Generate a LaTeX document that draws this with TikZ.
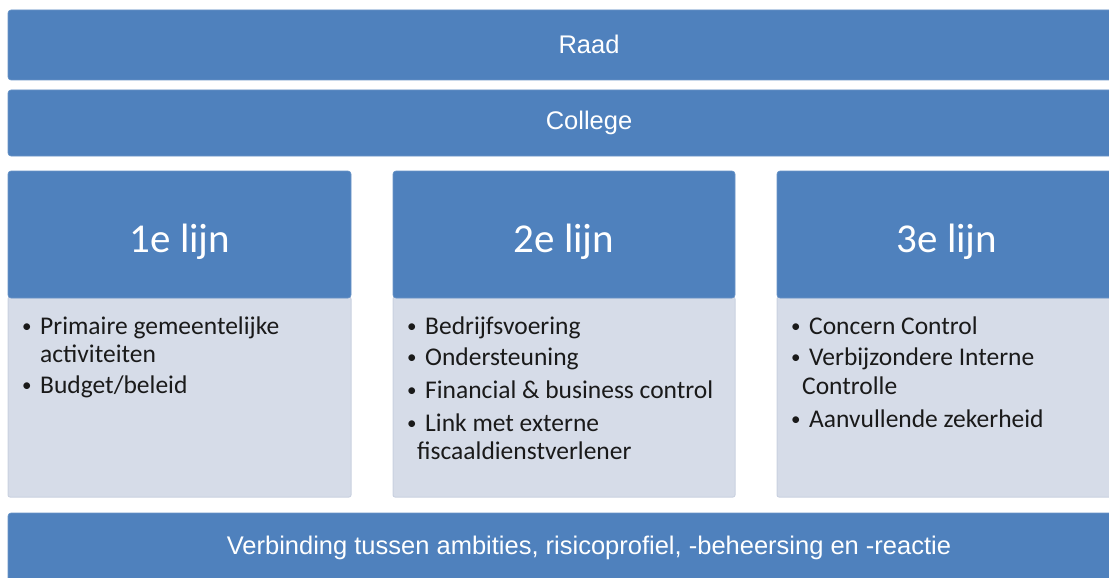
\documentclass[tikz,border=0pt]{standalone}
\usepackage{fontspec}
\setmainfont{Carlito}
\newfontfamily\arialf{Liberation Sans}
\definecolor{bblue}{HTML}{4F81BD}
\definecolor{lpanel}{HTML}{D6DCE8}
\definecolor{lborder}{HTML}{C9D1E0}
\definecolor{txt}{HTML}{1A1A1A}
\begin{document}
\begin{tikzpicture}[x=1pt,y=-1pt,
  bar/.style={fill=bblue,draw=bblue!85!white,line width=0.6pt,rounded corners=3pt},
  panel/.style={fill=lpanel,draw=lborder,line width=1pt,rounded corners=2pt},
  bartext/.style={text=white,font=\arialf\fontsize{25.5}{30}\selectfont,inner sep=0pt},
  headtext/.style={text=white,font=\fontsize{41}{46}\selectfont,inner sep=0pt},
  itemtext/.style={text=txt,font=\fontsize{25.5}{30}\selectfont,inner sep=0pt,anchor=base west},
  bul/.style={text=txt,font=\fontsize{19}{22}\selectfont,inner sep=0pt,anchor=base west}]
\useasboundingbox (0,0) rectangle (1109,578);
\clip (0,0) rectangle (1109,578);
% bars
\draw[bar] (8,10) rectangle (1170,80);
\node[bartext] (raad) at (589,44) {Raad};
\draw[bar] (8,90) rectangle (1170,156);
\node[bartext] (college) at (589,123) {College};
\draw[bar] (8,513) rectangle (1170,600);
\node[bartext] (verb) at (589,548) {Verbinding tussen ambities, risicoprofiel, -beheersing en -reactie};
% columns
\draw[panel] (8,297) rectangle (351,497);
\draw[bar] (8,171) rectangle (351,298);
\draw[panel] (393,297) rectangle (735,497);
\draw[bar] (393,171) rectangle (735,298);
\draw[panel] (777,297) rectangle (1140,497);
\draw[bar] (777,171) rectangle (1140,298);
\node[headtext] (h1) at (180,242) {1e lijn};
\node[headtext] (h2) at (564,242) {2e lijn};
\node[headtext] (h3) at (947,242) {3e lijn};
% column 1
\node[bul] (a1b) at (22,332) {•};
\node[itemtext] (a1) at (40,334) {Primaire gemeentelijke};
\node[itemtext] (a1c) at (40,362) {activiteiten};
\node[bul] (a2b) at (22,391) {•};
\node[itemtext] (a2) at (40,393) {Budget/beleid};
% column 2
\node[bul] (b1b) at (407,332) {•};
\node[itemtext] (b1) at (425,334) {Bedrijfsvoering};
\node[bul] (b2b) at (407,363) {•};
\node[itemtext] (b2) at (425,365) {Ondersteuning};
\node[bul] (b3b) at (407,396) {•};
\node[itemtext] (b3) at (425,398) {Financial \& business control};
\node[bul] (b4b) at (407,429) {•};
\node[itemtext] (b4) at (425,431) {Link met externe};
\node[itemtext] (b4c) at (417,459) {fiscaaldienstverlener};
% column 3
\node[bul] (c1b) at (791,332) {•};
\node[itemtext] (c1) at (809,334) {Concern Control};
\node[bul] (c2b) at (791,363) {•};
\node[itemtext] (c2) at (809,365) {Verbijzondere Interne};
\node[itemtext] (c2c) at (802,394) {Controlle};
\node[bul] (c3b) at (791,425) {•};
\node[itemtext] (c3) at (809,427) {Aanvullende zekerheid};
\end{tikzpicture}
\end{document}
